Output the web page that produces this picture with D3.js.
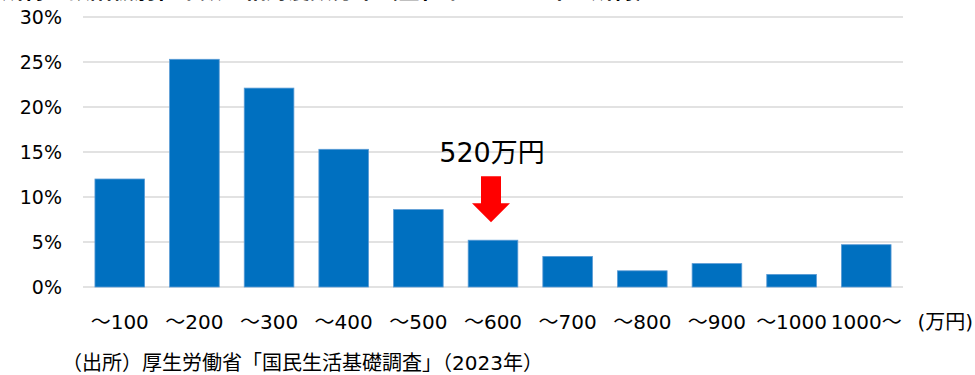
<!DOCTYPE html>
<html lang="ja">
<head>
    <meta charset="UTF-8">
    <title>所得金額階級別世帯数の相対度数分布</title>
    <script src="https://d3js.org/d3.v7.min.js"></script>
    <style>
        body { margin: 0; background: #fff; }
        text { font-family: "DejaVu Sans", "Noto Sans CJK JP", sans-serif; fill: #000; }
        .grid line { stroke: #d9d9d9; stroke-width: 1.5; }
    </style>
</head>
<body>
    <svg id="chart" width="975" height="375"></svg>
    <script>
        // data
        const categories = ['～100', '～200', '～300', '～400', '～500', '～600', '～700', '～800', '～900', '～1000', '1000～'];
        const shares = [12.0, 25.3, 22.1, 15.3, 8.6, 5.2, 3.4, 1.8, 2.6, 1.4, 4.7];
        const yTicks = [0, 5, 10, 15, 20, 25, 30];
        const medianLabel = '520万円';
        const medianCategory = '～600';

        const svg = d3.select('#chart');
        const margin = { top: 17, left: 83, right: 72, bottom: 88 };
        const width = +svg.attr('width');
        const height = +svg.attr('height');

        const x = d3.scaleBand()
            .domain(categories)
            .range([margin.left, width - margin.right])
            .paddingInner(0.335)
            .paddingOuter(0.16);

        const y = d3.scaleLinear()
            .domain([0, 30])
            .range([height - margin.bottom, margin.top]);

        // title (cut off at the top in the original, only its lower edge shows)
        svg.append('text')
            .attr('x', 2)
            .attr('y', -2)
            .attr('font-size', '22px')
            .attr('font-weight', 'bold')
            .text('所得金額階級別世帯数の相対度数分布（全世帯・2022年の所得）');

        // gridlines
        svg.append('g')
            .attr('class', 'grid')
            .selectAll('line')
            .data(yTicks)
            .join('line')
            .attr('x1', margin.left)
            .attr('x2', width - margin.right)
            .attr('y1', d => y(d))
            .attr('y2', d => y(d));

        // y axis labels
        svg.append('g')
            .selectAll('text')
            .data(yTicks)
            .join('text')
            .attr('x', 62)
            .attr('y', d => y(d))
            .attr('text-anchor', 'end')
            .attr('dominant-baseline', 'central')
            .attr('font-size', '19px')
            .text(d => d + '%');

        // bars
        svg.append('g')
            .selectAll('rect')
            .data(shares)
            .join('rect')
            .attr('x', (d, i) => x(categories[i]))
            .attr('y', d => y(d))
            .attr('width', x.bandwidth())
            .attr('height', d => y(0) - y(d))
            .attr('fill', '#0070c0')
            .attr('stroke', '#5b9bd5')
            .attr('stroke-width', 0.8);

        // x axis labels
        svg.append('g')
            .selectAll('text')
            .data(categories)
            .join('text')
            .attr('x', d => x(d) + x.bandwidth() / 2)
            .attr('y', 322)
            .attr('text-anchor', 'middle')
            .attr('dominant-baseline', 'central')
            .attr('font-size', '20px')
            .text(d => d);

        svg.append('text')
            .attr('x', 973)
            .attr('y', 322)
            .attr('text-anchor', 'end')
            .attr('dominant-baseline', 'central')
            .attr('font-size', '20px')
            .text('(万円)');

        // median annotation with red arrow
        const cx = x(medianCategory) + x.bandwidth() / 2 - 2;
        const tipY = y(5.2) - 18;
        const arrow = [
            [cx - 10, tipY - 46], [cx + 10, tipY - 46], [cx + 10, tipY - 19],
            [cx + 19, tipY - 19], [cx, tipY], [cx - 19, tipY - 19], [cx - 10, tipY - 19]
        ];
        svg.append('path')
            .attr('d', d3.line()(arrow) + 'Z')
            .attr('fill', '#ff0000');

        svg.append('text')
            .attr('x', cx + 1)
            .attr('y', tipY - 70)
            .attr('text-anchor', 'middle')
            .attr('dominant-baseline', 'central')
            .attr('font-size', '27px')
            .text(medianLabel);

        // source
        svg.append('text')
            .attr('x', 62)
            .attr('y', 363)
            .attr('dominant-baseline', 'central')
            .attr('font-size', '20px')
            .text('（出所）厚生労働省「国民生活基礎調査」（2023年）');
    </script>
</body>
</html>
